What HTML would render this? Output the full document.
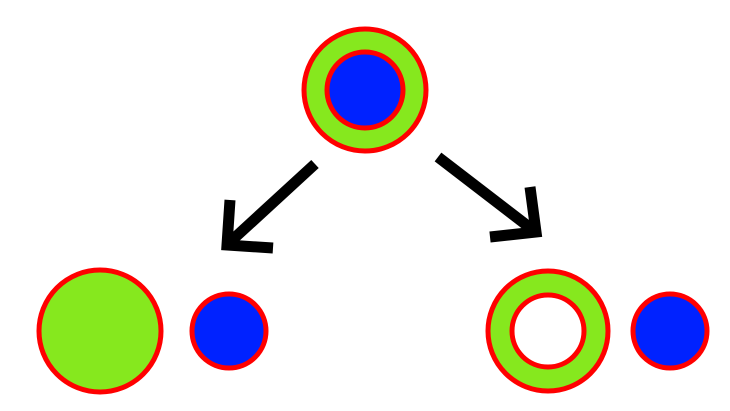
<!DOCTYPE html>
<html><head><meta charset="utf-8"><style>html,body{margin:0;padding:0;background:#fff;}svg{display:block;}</style></head>
<body>
<svg width="730" height="411" viewBox="0 0 730 411">
  <g>
    <circle cx="365" cy="90" r="61" fill="#86e81e" stroke="#ff0000" stroke-width="5"/>
    <circle cx="365" cy="90" r="38" fill="#0022ff" stroke="#ff0000" stroke-width="5"/>
  </g>
  <g stroke="#000" stroke-width="11" fill="none" stroke-linecap="butt" stroke-linejoin="miter">
    <line x1="315" y1="164" x2="230" y2="242"/>
    <polyline points="230,200 227,245 273,248"/>
  </g>
  <g stroke="#000" stroke-width="11" fill="none" stroke-linecap="butt" stroke-linejoin="miter">
    <line x1="438" y1="157" x2="533" y2="230"/>
    <polyline points="530,187 536,232 490,237"/>
  </g>
  <g>
    <circle cx="100" cy="331" r="61" fill="#86e81e" stroke="#ff0000" stroke-width="5"/>
    <circle cx="229" cy="331" r="37" fill="#0022ff" stroke="#ff0000" stroke-width="5"/>
  </g>
  <g>
    <circle cx="548" cy="331" r="60" fill="#86e81e" stroke="#ff0000" stroke-width="5"/>
    <circle cx="548" cy="331" r="36" fill="#ffffff" stroke="#ff0000" stroke-width="5"/>
    <circle cx="670" cy="331" r="37" fill="#0022ff" stroke="#ff0000" stroke-width="5"/>
  </g>
</svg>
</body></html>
